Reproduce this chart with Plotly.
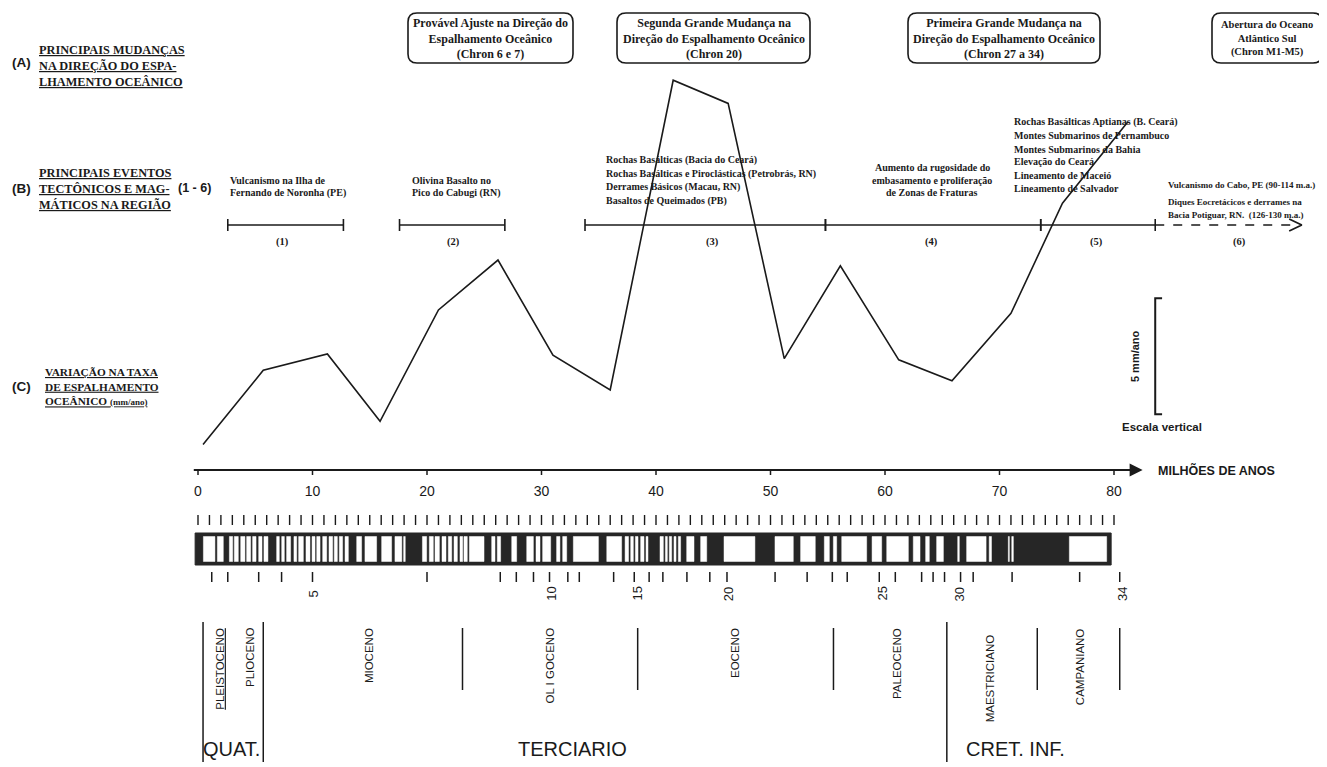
import plotly.graph_objects as go

W, H = 1327, 767
OFF = 8                    # page body margin compensation (pixels)
# ---- layout calibration (reference pixels) ----
X0, KX = 198.0, 11.45      # pixel of 0 Ma, pixels per Ma
Y0, KY = 470.0, 23.2       # pixel of zero rate, pixels per mm/ano

# ================= DATA =================
# (C) spreading-rate curve
rate_age = [0.44, 5.7, 11.3, 15.9, 21.0, 26.2, 31.0, 36.0, 41.5, 46.3, 51.2, 56.1, 61.2, 65.85, 71.0, 75.5, 81.2]
rate_value = [1.1, 4.3, 5.0, 2.1, 6.9, 9.05, 4.95, 3.45, 16.8, 15.8, 4.8, 8.8, 4.75, 3.85, 6.75, 11.5, 15.0]
scale_bar_value = 5.0          # mm/ano
scale_bar_base = 2.4

# time axis
time_ticks = [0, 10, 20, 30, 40, 50, 60, 70, 80]
time_tick_labels = ["0", "10", "20", "30", "40", "50", "60", "70", "80"]
minor_ticks = list(range(0, 81))

# magnetic polarity scale
polarity_start, polarity_end = -0.25, 79.75
reversed_start = [0.47, 1.69, 2.74, 3.17, 3.73, 4.25, 4.77, 5.30, 5.76, 6.87, 7.31, 7.74, 8.38, 8.79, 9.43,
                  9.96, 10.37, 10.89, 11.44, 11.90, 12.34, 12.84, 13.86, 14.58, 16.04, 17.20, 17.96, 19.60,
                  20.20, 20.70, 21.31, 21.86, 22.36, 22.88, 23.23, 23.70, 25.65, 26.14, 27.40, 28.71, 29.52,
                  30.10, 31.32, 31.85, 32.78, 35.70, 37.30, 37.79, 38.20, 38.66, 39.13, 40.35, 40.82, 41.16,
                  41.57, 41.95, 42.68, 43.90, 45.94, 50.39, 52.63, 54.70, 55.49, 56.22, 58.87, 60.15, 62.47,
                  63.55, 64.51, 66.35, 67.13, 69.10, 70.77, 71.07, 76.10]
reversed_end = [1.48, 2.21, 3.03, 3.52, 4.10, 4.60, 5.07, 5.59, 6.11, 7.10, 7.54, 8.09, 8.62, 9.20, 9.78,
                10.22, 10.66, 11.24, 11.76, 12.17, 12.63, 13.13, 14.29, 15.60, 16.91, 17.80, 18.10, 19.97,
                20.55, 21.08, 21.66, 22.16, 22.65, 23.12, 23.52, 24.98, 25.94, 26.43, 27.83, 29.29, 29.87,
                30.80, 31.61, 32.20, 34.97, 37.00, 37.60, 38.02, 38.43, 38.95, 39.30, 40.64, 40.99, 41.37,
                41.75, 42.15, 43.32, 44.43, 48.64, 51.99, 53.91, 55.14, 55.78, 58.40, 59.71, 62.04, 63.06,
                63.87, 65.10, 66.49, 68.83, 69.30, 70.86, 71.21, 79.36]
chron_boundaries = [1.2, 2.6, 5.3, 7.3, 10.0, 20.0, 26.4, 27.8, 29.3, 30.7, 32.3, 33.3, 36.3, 38.1, 39.4,
                    40.6, 42.7, 44.7, 46.2, 50.4, 53.2, 55.4, 56.7, 59.5, 60.9, 63.2, 64.2, 65.2, 66.6, 67.7,
                    71.1, 77.0, 80.5]
chron_labels = ["5", "10", "15", "20", "25", "30", "34"]
chron_label_age = [10.0, 30.8, 38.3, 46.3, 59.7, 66.5, 80.7]

# (B) tectonic / magmatic events
event_ids = ["(1)", "(2)", "(3)", "(4)", "(5)", "(6)"]
event_start = [2.6, 17.6, 33.8, 54.8, 73.6, 83.6]
event_end = [12.7, 26.8, 54.8, 73.6, 83.6, 96.4]
event_label_age = [7.4, 22.3, 44.9, 64.1, 78.5, 91.0]
event_texts = [
    ["Vulcanismo na Ilha de", "Fernando de Noronha (PE)"],
    ["Olivina Basalto no", "Pico do Cabugi (RN)"],
    ["Rochas Basálticas (Bacia do Ceará)", "Rochas Basálticas e Piroclásticas (Petrobrás, RN)",
     "Derrames Básicos (Macau, RN)", "Basaltos de Queimados (PB)"],
    ["Aumento da rugosidade do", "embasamento e proliferação", "de Zonas de Fraturas"],
    ["Rochas Basálticas Aptianas (B. Ceará)", "Montes Submarinos de Pernambuco", "Montes Submarinos da Bahia",
     "Elevação do Ceará", "Lineamento de Maceió", "Lineamento de Salvador"],
    ["Vulcanismo do Cabo, PE (90-114 m.a.)", "Diques Eocretácicos e derrames na",
     "Bacia Potiguar, RN.  (126-130 m.a.)"],
]

# (A) changes in spreading direction
direction_boxes = [
    ["Provável Ajuste na Direção do", "Espalhamento Oceânico", "(Chron 6 e 7)"],
    ["Segunda Grande Mudança na", "Direção do Espalhamento Oceânico", "(Chron 20)"],
    ["Primeira Grande Mudança na", "Direção do Espalhamento Oceânico", "(Chron 27 a 34)"],
    ["Abertura do Oceano", "Atlântico Sul", "(Chron M1-M5)"],
]

# geological time scale
epoch_names = ["<u>PLEISTOCENO</u>", "PLIOCENO", "MIOCENO", "OL I GOCENO", "EOCENO", "PALEOCENO",
               "MAESTRICIANO", "CAMPANIANO"]
epoch_label_age = [1.9, 4.5, 14.9, 30.7, 46.9, 61.0, 69.2, 77.0]
period_boundaries = [0.44, 5.7, 65.4]
epoch_boundaries = [23.1, 38.4, 55.5, 73.3, 80.5]
period_names = ["QUAT.", "TERCIARIO", "CRET. INF."]
period_label_age = [2.9, 32.7, 71.4]

# ================= STYLE / HELPERS =================
SERIF = "Liberation Serif, Times New Roman, serif"
SANS = "Liberation Sans, Arial, sans-serif"
INK = "#1a1a1a"


def px(x):
    return (x - OFF) / W


def py(y):
    return 1 - (y - OFF) / H


fig = go.Figure()
ann = []
shapes = []


def text(x, y, s, size, family=SANS, color=INK, xanchor="center", yanchor="middle", angle=0,
         xref="paper", yref="paper"):
    ann.append(dict(x=x, y=y, xref=xref, yref=yref, text=s, showarrow=False, textangle=angle,
                    font=dict(size=size, family=family, color=color), xanchor=xanchor,
                    yanchor=yanchor, align="left" if xanchor == "left" else "center"))


def seg_trace(xs, ys, width=1.2, dash="solid", axis_y="y2", color=INK):
    fig.add_trace(go.Scatter(x=xs, y=ys, mode="lines", xaxis="x", yaxis=axis_y,
                             line=dict(color=color, width=width, dash=dash),
                             hoverinfo="skip", showlegend=False))


# ---- (C) spreading rate curve ----
fig.add_trace(go.Scatter(x=rate_age, y=rate_value, mode="lines", xaxis="x", yaxis="y",
                         line=dict(color=INK, width=1.6), showlegend=False,
                         name="Taxa de espalhamento"))

# scale bar (5 mm/ano) on the rate axis
sb_age = 83.6
sb_tip = 0.6
seg_trace([sb_age + sb_tip, sb_age, sb_age, sb_age + sb_tip],
          [scale_bar_base + scale_bar_value, scale_bar_base + scale_bar_value, scale_bar_base, scale_bar_base],
          width=2, axis_y="y")
text(sb_age - 1.7, scale_bar_base + scale_bar_value / 2, "<b>5 mm/ano</b>", 11, family=SANS, angle=-90,
     xref="x", yref="y")
text(sb_age + 0.6, py(427), "<b>Escala vertical</b>", 11.5, family=SANS, xref="x")

# ---- time axis ----
ann.append(dict(x=82.5, y=Y0, xref="x", yref="y2", ax=-0.5, ay=Y0, axref="x", ayref="y2",
                showarrow=True, arrowhead=2, arrowsize=1.3, arrowwidth=2, arrowcolor=INK, text=""))
tx, ty = [], []
for t in time_ticks:
    tx += [t, t, None]
    ty += [Y0, Y0 + 5, None]
seg_trace(tx, ty, width=1.5)
fig.add_trace(go.Scatter(x=time_ticks, y=[492] * len(time_ticks), mode="text", text=time_tick_labels,
                         xaxis="x", yaxis="y2", textfont=dict(size=14, family=SANS, color=INK),
                         hoverinfo="skip", showlegend=False))
text(px(1156), py(Y0), "<b>MILHÕES DE ANOS</b>", 12.5, xanchor="left")

# ---- polarity scale ----
mx, my = [], []
for t in minor_ticks:
    mx += [t, t, None]
    my += [515, 525, None]
seg_trace(mx, my, width=1.4)

fig.add_trace(go.Scatter(x=[polarity_start, polarity_end, polarity_end, polarity_start, polarity_start],
                         y=[533, 533, 565, 565, 533], mode="lines", fill="toself", fillcolor="#262626",
                         line=dict(color="#262626", width=1), xaxis="x", yaxis="y2",
                         hoverinfo="skip", showlegend=False))
wx, wy = [], []
for a, b in zip(reversed_start, reversed_end):
    wx += [a, b, b, a, a, None]
    wy += [536.5, 536.5, 561.5, 561.5, 536.5, None]
fig.add_trace(go.Scatter(x=wx, y=wy, mode="lines", fill="toself", fillcolor="white",
                         line=dict(color="white", width=0.5), xaxis="x", yaxis="y2",
                         hoverinfo="skip", showlegend=False))
cx, cy = [], []
for t in chron_boundaries:
    cx += [t, t, None]
    cy += [572, 582, None]
seg_trace(cx, cy, width=1.5)
for lab, t in zip(chron_labels, chron_label_age):
    text(t, py(594), lab, 13, family=SANS, angle=-90, xref="x")

# ---- (B) events ----
for i, (a, b) in enumerate(zip(event_start, event_end)):
    if i < 5:
        seg_trace([a, b], [225, 225], width=1.6)
        seg_trace([a, a, None, b, b], [219, 231, None, 219, 231], width=1.6)
    else:
        seg_trace([a, b - 0.3], [225, 225], width=1.5, dash="dash")
        seg_trace([b - 1.1, b, b - 1.1], [219, 225, 231], width=1.8)
for lab, t in zip(event_ids, event_label_age):
    text(t, py(242), "<b>" + lab + "</b>", 10.5, family=SERIF, xref="x")

event_text_pos = [(228, [180, 193], "left", 10), (410, [180, 193], "left", 10),
                  (604, [160, 173.5, 187, 200.5], "left", 10), (932, [167, 180, 192.5], "center", 10),
                  (1012, [122, 135.5, 149, 162, 175.5, 188.5], "left", 10),
                  (1166, [185, 202, 215], "left", 9)]
for lines, (x, ys, anchor, size) in zip(event_texts, event_text_pos):
    for line, y in zip(lines, ys):
        text(px(x), py(y), "<b>" + line + "</b>", size, family=SERIF, xanchor=anchor)

# ---- (A) rounded boxes ----
box_pos = [(408, 573), (617, 810), (908, 1100), (1212, 1322)]
box_font = [12, 12, 12, 10.5]
bt, bb, r = 13, 63, 9
for lines, (x0, x1), fs in zip(direction_boxes, box_pos, box_font):
    path = (f"M {px(x0 + r)},{py(bt)} L {px(x1 - r)},{py(bt)} Q {px(x1)},{py(bt)} {px(x1)},{py(bt + r)} "
            f"L {px(x1)},{py(bb - r)} Q {px(x1)},{py(bb)} {px(x1 - r)},{py(bb)} "
            f"L {px(x0 + r)},{py(bb)} Q {px(x0)},{py(bb)} {px(x0)},{py(bb - r)} "
            f"L {px(x0)},{py(bt + r)} Q {px(x0)},{py(bt)} {px(x0 + r)},{py(bt)} Z")
    shapes.append(dict(type="path", path=path, xref="paper", yref="paper",
                       line=dict(color=INK, width=1.6)))
    text(px((x0 + x1) / 2), py((bt + bb) / 2), "<b>" + "<br>".join(lines) + "</b>", fs, family=SERIF)

# ---- left labels ----
text(px(22), py(63), "<b>(A)</b>", 13.5)
text(px(37), py(66), "<br>".join("<u><b>" + s + "</b></u>" for s in
                                 ["PRINCIPAIS MUDANÇAS", "NA DIREÇÃO DO ESPA-", "LHAMENTO OCEÂNICO"]),
     12.3, family=SERIF, xanchor="left")
text(px(22), py(189), "<b>(B)</b>", 13.5)
text(px(37), py(189), "<br>".join("<u><b>" + s + "</b></u>" for s in
                                  ["PRINCIPAIS EVENTOS", "TECTÔNICOS E MAG-", "MÁTICOS NA REGIÃO"]),
     12.3, family=SERIF, xanchor="left")
text(px(194), py(188), "<b>(1 - 6)</b>", 12.5)
text(px(22), py(386), "<b>(C)</b>", 13.5)
text(px(43), py(386), "<u><b>VARIAÇÃO NA TAXA</b></u><br><u><b>DE ESPALHAMENTO</b></u><br>"
     "<u><b>OCEÂNICO <span style='font-size:9px'>(mm/ano)</span></b></u>",
     11.3, family=SERIF, xanchor="left")

# ---- geological time scale ----
gx, gy = [], []
for t in period_boundaries:
    gx += [t, t, None]
    gy += [622, 762, None]
for t in epoch_boundaries:
    gx += [t, t, None]
    gy += [628, 690, None]
seg_trace(gx, gy, width=1.5)
for name, t in zip(epoch_names, epoch_label_age):
    top = 632 if name == "MAESTRICIANO" else 626
    text(t, py(top), name, 11.5, family=SANS, angle=-90, yanchor="top", xref="x")
for name, t in zip(period_names, period_label_age):
    text(t, py(749), name, 20, family=SANS, xref="x")

# ================= LAYOUT =================
fig.update_layout(
    width=W, height=H, margin=dict(l=0, r=0, t=0, b=0),
    paper_bgcolor="white", plot_bgcolor="white", showlegend=False,
    xaxis=dict(range=[-(X0 - OFF) / KX, (W - X0 + OFF) / KX], domain=[0, 1], visible=False,
               fixedrange=True),
    yaxis=dict(range=[(Y0 - OFF - H) / KY, (Y0 - OFF) / KY], domain=[0, 1], visible=False,
               fixedrange=True),
    yaxis2=dict(range=[H + OFF, OFF], overlaying="y", visible=False, fixedrange=True),
    annotations=ann, shapes=shapes,
)
fig.write_html("out.html")
